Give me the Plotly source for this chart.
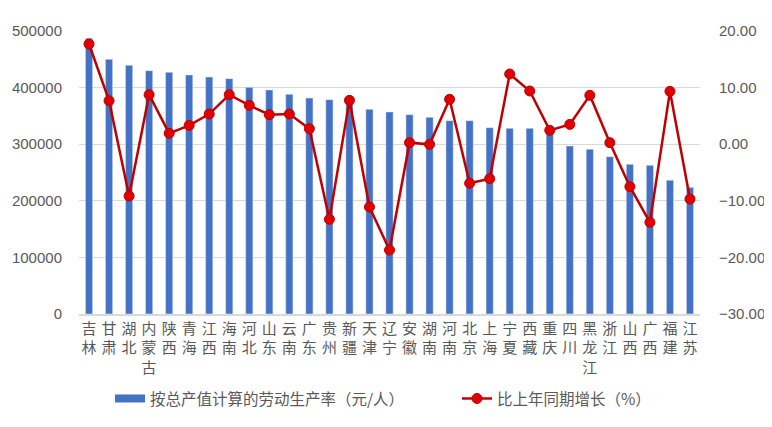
import plotly.graph_objects as go

# 各省份按总产值计算的劳动生产率及同比增长
provinces = ["吉林", "甘肃", "湖北", "内蒙古", "陕西", "青海", "江西", "海南", "河北", "山东",
             "云南", "广东", "贵州", "新疆", "天津", "辽宁", "安徽", "湖南", "河南", "北京",
             "上海", "宁夏", "西藏", "重庆", "四川", "黑龙江", "浙江", "山西", "广西", "福建", "江苏"]

productivity = [487000, 450000, 439400, 429900, 427000, 422300, 418700, 415800, 400500, 395800,
                388100, 381600, 378700, 374000, 361600, 356900, 352200, 347500, 341600, 341500,
                329200, 328000, 328000, 323300, 296800, 291000, 278000, 264500, 262700, 236200, 223800]

growth = [17.7, 7.69, -9.15, 8.75, 1.92, 3.33, 5.33, 8.75, 6.87, 5.21,
          5.33, 2.74, -13.27, 7.75, -11.1, -18.7, 0.27, -0.02, 7.93, -6.9,
          -6.1, 12.4, 9.4, 2.45, 3.5, 8.63, 0.27, -7.5, -13.8, 9.34, -9.7]

# 竖排标签：每个字一行
x_labels = ["<br>".join(list(p)) for p in provinces]

FONT = "Noto Sans CJK SC"
GREY = "#595959"
BLUE = "#4472C4"

fig = go.Figure()
fig.add_trace(go.Bar(
    x=x_labels, y=productivity,
    name="按总产值计算的劳动生产率（元/人）",
    marker_color=BLUE,
    showlegend=False,
))
# legend entry drawn as a wide blue strip like Excel
fig.add_trace(go.Scatter(
    x=[None], y=[None], mode="lines",
    name="按总产值计算的劳动生产率（元/人）",
    line=dict(color=BLUE, width=8),
    legend="legend",
))
fig.add_trace(go.Scatter(
    x=x_labels, y=growth,
    name="比上年同期增长（%）",
    yaxis="y2",
    mode="lines+markers",
    line=dict(color="#C00000", width=2.5),
    marker=dict(color="#E00000", size=10, line=dict(color="#C00000", width=1)),
    legend="legend2",
))

legend_style = dict(
    orientation="h", xref="container", xanchor="left",
    y=-0.3, yanchor="middle",
    font=dict(family=FONT, size=15.5, color=GREY),
    itemwidth=30,
    bgcolor="rgba(0,0,0,0)",
)

fig.update_layout(
    width=764, height=419,
    margin=dict(l=71, r=72, t=23, b=113, autoexpand=False),
    paper_bgcolor="white",
    plot_bgcolor="white",
    font=dict(family=FONT, color=GREY, size=14),
    bargap=0.64,
    showlegend=True,
    legend=dict(x=0.1335, **legend_style),
    legend2=dict(x=0.5877, **legend_style),
    xaxis=dict(
        automargin=False,
        range=[-0.5, len(provinces) - 0.5],
        tickfont=dict(family=FONT, size=15, color=GREY),
        showline=True, linecolor="#d9d9d9", linewidth=1.5,
        ticks="", tickangle=0,
        showgrid=False,
    ),
    yaxis=dict(
        automargin=False,
        range=[0, 500000], dtick=100000,
        tickformat="d",
        showgrid=True, gridcolor="#d9d9d9", gridwidth=1,
        zeroline=False, showline=False,
        tickfont=dict(family="Liberation Sans", size=15, color=GREY),
        ticklabelstandoff=16,
    ),
    yaxis2=dict(
        automargin=False,
        overlaying="y", side="right",
        range=[-30, 20], dtick=10,
        tickformat=".2f",
        showgrid=False, zeroline=False, showline=False,
        tickfont=dict(family="Liberation Sans", size=15, color=GREY),
        ticklabelstandoff=18,
    ),
)

fig.write_html("out.html")
